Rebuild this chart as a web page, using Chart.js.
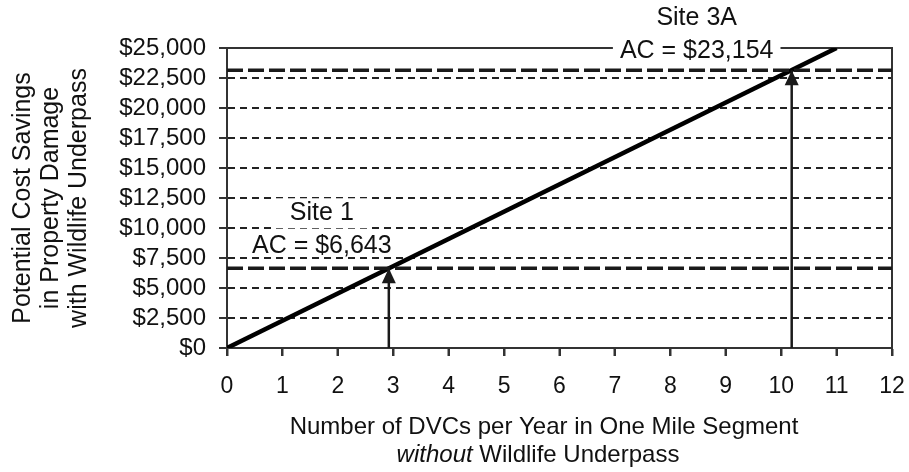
<!DOCTYPE html>
<html>
<head>
<meta charset="utf-8">
<script src="https://cdn.jsdelivr.net/npm/chart.js@4.4.1/dist/chart.umd.min.js"></script>
<style>
  html, body { margin: 0; padding: 0; background: #fff; }
  canvas { display: block; }
</style>
</head>
<body>
<canvas id="chart" width="909" height="472"></canvas>
<script>
// savings line (DVCs per year -> $ saved)
const dvcCount = [0, 11];
const costSavings = [0, 25000];

// sites where the line meets the annualized cost
const siteNames = ['Site 1', 'Site 3A'];
const siteAC = [6643, 23154];
const siteDVC = [2.92, 10.19];

const xTickValues = [0, 1, 2, 3, 4, 5, 6, 7, 8, 9, 10, 11, 12];
const yTickValues = [0, 2500, 5000, 7500, 10000, 12500, 15000, 17500, 20000, 22500, 25000];

const xTitleLine1 = 'Number of DVCs per Year in One Mile Segment';
const xTitleItalic = 'without';
const xTitleRest = ' Wildlife Underpass';

const FONT = '"Liberation Sans", Arial, Helvetica, sans-serif';
const INK = '#1a1a1a';

Chart.defaults.font.family = FONT;
Chart.defaults.color = '#111';

const datasets = [];

// arrows from the x axis up to each AC line
siteDVC.forEach((x, i) => {
    datasets.push({
        data: [{ x: x, y: 0 }, { x: x, y: siteAC[i] }],
        showLine: true,
        borderColor: INK,
        borderWidth: 2.5,
        pointRadius: 0
    });
});

// AC threshold lines
siteAC.forEach((ac) => {
    datasets.push({
        data: [{ x: xTickValues[0], y: ac }, { x: xTickValues[xTickValues.length - 1], y: ac }],
        showLine: true,
        borderColor: INK,
        borderWidth: 3.5,
        borderDash: [16, 5],
        pointRadius: 0
    });
});

// main savings line
datasets.push({
    data: dvcCount.map((x, i) => ({ x: x, y: costSavings[i] })),
    showLine: true,
    borderColor: '#000',
    borderWidth: 4.5,
    pointRadius: 0
});

const siteLabels = {
    id: 'siteLabels',
    beforeDatasetsDraw(chart) {
        // plot frame + x tick marks
        const { ctx, chartArea: a } = chart;
        const xs = chart.scales.x;
        ctx.save();
        ctx.strokeStyle = '#333';
        ctx.lineWidth = 2;
        ctx.strokeRect(a.left, a.top, a.right - a.left, a.bottom - a.top);
        ctx.beginPath();
        xs.ticks.forEach((t) => {
            const px = Math.round(xs.getPixelForValue(t.value));
            ctx.moveTo(px, a.bottom);
            ctx.lineTo(px, a.bottom + 8);
        });
        ctx.stroke();
        ctx.restore();
    },
    afterDatasetsDraw(chart) {
        const { ctx } = chart;
        const xs = chart.scales.x, ys = chart.scales.y;
        const labelDx = [-67, -95];
        const acDy = [-22, -19];

        ctx.save();
        ctx.font = '25px ' + FONT;
        ctx.textAlign = 'center';
        ctx.textBaseline = 'middle';

        siteNames.forEach((name, i) => {
            const px = xs.getPixelForValue(siteDVC[i]);
            const py = ys.getPixelForValue(siteAC[i]);

            // arrow head
            ctx.fillStyle = INK;
            ctx.beginPath();
            ctx.moveTo(px, py);
            ctx.lineTo(px - 7, py + 15);
            ctx.lineTo(px + 7, py + 15);
            ctx.closePath();
            ctx.fill();

            const cx = px + labelDx[i];
            const acY = py + acDy[i];
            const nameY = acY - 33;
            const acText = 'AC = $' + siteAC[i].toLocaleString('en-US');

            let w = ctx.measureText(name).width;
            ctx.fillStyle = '#fff';
            ctx.fillRect(cx - w / 2 - 15, nameY - 15, w + 30, 30);
            w = ctx.measureText(acText).width;
            ctx.fillRect(cx - w / 2 - 7, acY - 8, w + 14, 16);

            ctx.fillStyle = '#111';
            ctx.fillText(name, cx, nameY);
            ctx.fillText(acText, cx, acY);
        });
        ctx.restore();
    },
    afterDraw(chart) {
        // x axis title, second line partly italic
        const { ctx } = chart;
        ctx.save();
        ctx.fillStyle = '#111';
        ctx.textBaseline = 'middle';
        ctx.font = '24px ' + FONT;
        ctx.textAlign = 'center';
        ctx.fillText(xTitleLine1, 544, 427);

        ctx.textAlign = 'left';
        ctx.font = 'italic 24px ' + FONT;
        const wi = ctx.measureText(xTitleItalic).width;
        ctx.font = '24px ' + FONT;
        const wr = ctx.measureText(xTitleRest).width;
        const x0 = 538 - (wi + wr) / 2;
        ctx.font = 'italic 24px ' + FONT;
        ctx.fillText(xTitleItalic, x0, 455);
        ctx.font = '24px ' + FONT;
        ctx.fillText(xTitleRest, x0 + wi, 455);
        ctx.restore();
    }
};

new Chart(document.getElementById('chart'), {
    type: 'scatter',
    data: { datasets: datasets },
    options: {
        responsive: false,
        animation: false,
        devicePixelRatio: 1,
        layout: { padding: { top: 48, right: 17, bottom: 0, left: 0 } },
        plugins: {
            legend: { display: false },
            tooltip: { enabled: false }
        },
        scales: {
            x: {
                type: 'linear',
                min: xTickValues[0],
                max: xTickValues[xTickValues.length - 1],
                afterBuildTicks: (scale) => {
                    scale.ticks = xTickValues.map(v => ({ value: v }));
                },
                afterFit: (scale) => {
                    scale.height = 124;
                    scale.paddingLeft = 0;
                    scale.paddingRight = 0;
                },
                ticks: {
                    padding: 17,
                    color: '#111',
                    font: { size: 23 },
                    autoSkip: false,
                    maxRotation: 0
                },
                grid: {
                    drawOnChartArea: false,
                    drawTicks: true,
                    tickLength: 8,
                    tickColor: '#333',
                    tickWidth: 2
                },
                border: { display: true, color: '#333', width: 2 },
                title: { display: false }
            },
            y: {
                min: yTickValues[0],
                max: yTickValues[yTickValues.length - 1],
                afterBuildTicks: (scale) => {
                    scale.ticks = yTickValues.map(v => ({ value: v }));
                },
                afterFit: (scale) => { scale.width = 227; },
                ticks: {
                    padding: 13,
                    color: '#111',
                    font: { size: 24 },
                    autoSkip: false,
                    callback: (v) => '$' + Number(v).toLocaleString('en-US')
                },
                grid: {
                    color: '#222',
                    lineWidth: 2,
                    drawTicks: true,
                    tickLength: 8,
                    tickColor: '#333',
                    tickWidth: 2,
                    tickBorderDash: []
                },
                border: { display: true, color: '#333', width: 2, dash: [7, 5] },
                title: {
                    display: true,
                    text: ['Potential Cost Savings', 'in Property Damage', 'with Wildlife Underpass'],
                    color: '#111',
                    font: { size: 25, lineHeight: '28px' },
                    padding: { top: 9, bottom: 0 }
                }
            }
        }
    },
    plugins: [siteLabels]
});
</script>
</body>
</html>
